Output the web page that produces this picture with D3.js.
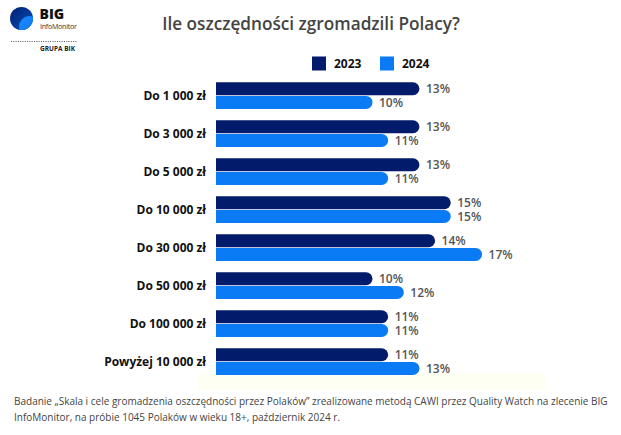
<!DOCTYPE html>
<html>
<head>
<meta charset="utf-8">
<script src="https://cdn.jsdelivr.net/npm/d3@7"></script>
<style>
  html, body { margin: 0; padding: 0; background: #fff; }
  svg { display: block; font-family: "Open Sans", sans-serif; }
</style>
</head>
<body>
<div id="chart"></div>
<script>
const categories = ["Do 1 000 zł", "Do 3 000 zł", "Do 5 000 zł", "Do 10 000 zł", "Do 30 000 zł", "Do 50 000 zł", "Do 100 000 zł", "Powyżej 10 000 zł"];
const seriesNames = ["2023", "2024"];
const values2023 = [13, 13, 13, 15, 14, 10, 11, 11];
const values2024 = [10, 11, 11, 15, 17, 12, 11, 13];
const colors = ["#021b6b", "#0a7bf5"];
const title = "Ile oszczędności zgromadzili Polacy?";
const footnote = [
  "Badanie „Skala i cele gromadzenia oszczędności przez Polaków” zrealizowane metodą CAWI przez Quality Watch na zlecenie BIG",
  "InfoMonitor, na próbie 1045 Polaków w wieku 18+, październik 2024 r."
];

const W = 621, H = 435;
const svg = d3.select("#chart").append("svg").attr("width", W).attr("height", H);

// Logo
const defs = svg.append("defs");
const g1 = defs.append("linearGradient").attr("id", "lg1").attr("x1", "0").attr("y1", "0").attr("x2", "1").attr("y2", "1");
g1.append("stop").attr("offset", "0").attr("stop-color", "#02206f");
g1.append("stop").attr("offset", "1").attr("stop-color", "#0a4fc0");
const g2 = defs.append("linearGradient").attr("id", "lg2").attr("x1", "0").attr("y1", "0").attr("x2", "1").attr("y2", "1");
g2.append("stop").attr("offset", "0").attr("stop-color", "#1a8cff");
g2.append("stop").attr("offset", "1").attr("stop-color", "#0a6de8");
defs.append("clipPath").attr("id", "logoClip").append("circle").attr("cx", 21.5).attr("cy", 18.5).attr("r", 11.5);
const logo = svg.append("g");
logo.append("circle").attr("cx", 21.5).attr("cy", 18.5).attr("r", 11.5).attr("fill", "url(#lg1)");
logo.append("circle").attr("cx", 30).attr("cy", 27).attr("r", 11).attr("fill", "url(#lg2)").attr("clip-path", "url(#logoClip)");
logo.append("text").attr("x", 39.5).attr("y", 19).attr("font-size", 14).attr("font-weight", 800).attr("fill", "#111").text("BIG");
logo.append("text").attr("x", 40).attr("y", 28.5).attr("font-size", 7).attr("fill", "#333").attr("letter-spacing", -0.2).text("InfoMonitor");
logo.append("line").attr("x1", 11).attr("x2", 77).attr("y1", 41.5).attr("y2", 41.5)
  .attr("stroke", "#555").attr("stroke-width", 1).attr("stroke-dasharray", "1,1.3");
logo.append("text").attr("x", 40).attr("y", 51).attr("font-size", 6.5).attr("font-weight", 700).attr("fill", "#222").text("GRUPA BIK");

// Title
svg.append("text").attr("x", 311).attr("y", 30).attr("text-anchor", "middle")
  .attr("font-size", 17.2).attr("font-weight", 600).attr("fill", "#444").text(title);

// Legend
const legendX = [312, 380];
seriesNames.forEach((s, i) => {
  svg.append("rect").attr("x", legendX[i]).attr("y", 56.5).attr("width", 14).attr("height", 14).attr("fill", colors[i]);
  svg.append("text").attr("x", legendX[i] + 22).attr("y", 68).attr("font-size", 12).attr("font-weight", 700).attr("fill", "#111").text(s);
});

// Highlight band at bottom
svg.append("rect").attr("x", 198).attr("y", 373).attr("width", 347).attr("height", 17).attr("fill", "#fdfff2");

// Scales
const x = d3.scaleLinear().domain([0, 20]).range([216, 529]);
const y = d3.scaleBand().domain(categories).range([76.6, 380.6]).paddingInner(0.3).paddingOuter(0.15);
const ySub = d3.scaleBand().domain(seriesNames).range([0, y.bandwidth()]).paddingInner(0.05);

const data = categories.map((c, i) => ({ cat: c, vals: [values2023[i], values2024[i]] }));

function barPath(x0, y0, w, h) {
  const r = Math.min(h / 2, w);
  return `M${x0},${y0}H${x0 + w - r}A${r},${r} 0 0 1 ${x0 + w},${y0 + r}A${r},${r} 0 0 1 ${x0 + w - r},${y0 + h}H${x0}Z`;
}

const groups = svg.append("g").selectAll("g").data(data).join("g")
  .attr("transform", d => `translate(0,${y(d.cat)})`);

groups.selectAll("path").data(d => d.vals.map((v, i) => ({ v, s: seriesNames[i], i }))).join("path")
  .attr("d", d => barPath(x(0), ySub(d.s), x(d.v) - x(0), ySub.bandwidth()))
  .attr("fill", d => colors[d.i]);

groups.selectAll("text.val").data(d => d.vals.map((v, i) => ({ v, s: seriesNames[i], i }))).join("text")
  .attr("class", "val")
  .attr("x", d => x(d.v) + 6.5)
  .attr("y", d => ySub(d.s) + ySub.bandwidth() / 2 + 4.3)
  .attr("font-size", 12).attr("font-weight", 600).attr("fill", "#555")
  .text(d => d.v + "%");

// Category axis
const yAxis = d3.axisLeft(y).tickSize(0).tickPadding(0);
const ax = svg.append("g").attr("transform", "translate(206,0)").call(yAxis);
ax.select(".domain").remove();
ax.selectAll("text").attr("font-size", 12).attr("font-weight", 700).attr("fill", "#111")
  .attr("font-family", "'Open Sans', sans-serif").attr("dy", "0.35em");

// Footnote
footnote.forEach((t, i) => {
  svg.append("text").attr("x", 14).attr("y", 405 + i * 15.5).attr("font-size", 10).attr("fill", "#444").text(t);
});
</script>
</body>
</html>
